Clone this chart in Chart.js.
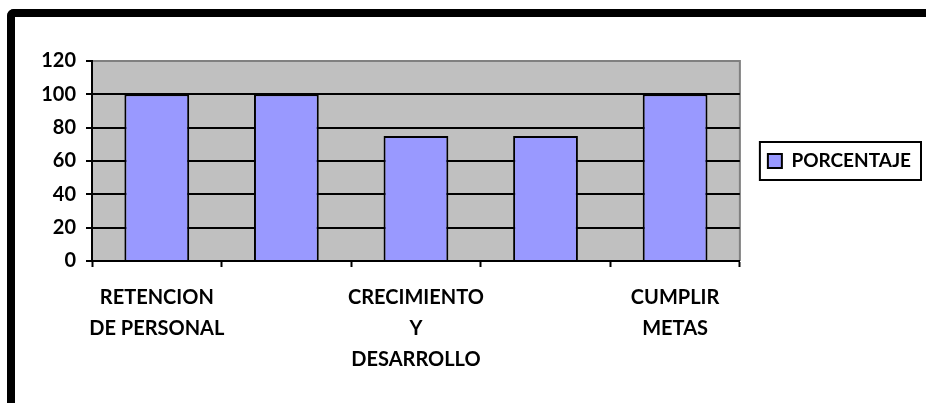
<!DOCTYPE html>
<html lang="es">
<head>
<meta charset="UTF-8">
<title>Porcentaje</title>
<script src="https://cdn.jsdelivr.net/npm/chart.js"></script>
<style>
    html, body { margin: 0; padding: 0; overflow: hidden; background: #fff; }
    #marco {
        position: absolute; left: 7px; top: 9px; width: 1000px; height: 500px;
        border-left: 8px solid #000; border-top: 8px solid #000;
        border-top-left-radius: 7px;
    }
    #caja { position: absolute; left: 0; top: 0; width: 926px; height: 403px; }
</style>
</head>
<body>
<div id="marco"></div>
<div id="caja"><canvas id="grafico"></canvas></div>
<script>
    // datos (las etiquetas 2 y 4 no se ven en el original)
    const categorias = [['RETENCION', 'DE PERSONAL'], '', ['CRECIMIENTO', 'Y', 'DESARROLLO'], '', ['CUMPLIR', 'METAS']];
    const porcentaje = [100, 100, 75, 75, 100];
    const ejeY = { min: 0, max: 120, paso: 20 };

    const fuente = { family: 'Lato', weight: 'bold', size: 20 };

    // fondo gris del area de trazado
    const fondoArea = {
        id: 'fondoArea',
        beforeDraw(chart) {
            const { ctx, chartArea: a } = chart;
            ctx.save();
            ctx.fillStyle = '#c0c0c0';
            ctx.fillRect(a.left, a.top, a.width, a.height);
            ctx.strokeStyle = '#808080';
            ctx.lineWidth = 2;
            ctx.beginPath();
            ctx.moveTo(a.left, a.top);
            ctx.lineTo(a.right, a.top);
            ctx.lineTo(a.right, a.bottom);
            ctx.stroke();
            ctx.restore();
        }
    };

    // recuadro de la leyenda
    const marcoLeyenda = {
        id: 'marcoLeyenda',
        afterDraw(chart) {
            const hb = chart.legend.legendHitBoxes[0];
            if (!hb) return;
            const ctx = chart.ctx;
            const cy = hb.top + hb.height / 2;
            ctx.save();
            ctx.strokeStyle = '#000';
            ctx.lineWidth = 2;
            ctx.strokeRect(hb.left - 8, cy - 19, hb.width + 18, 38);
            ctx.restore();
        }
    };

    new Chart(document.getElementById('grafico'), {
        type: 'bar',
        data: {
            labels: categorias,
            datasets: [{
                label: 'PORCENTAJE',
                data: porcentaje,
                backgroundColor: '#9999ff',
                borderColor: '#000',
                borderWidth: 2,
                barPercentage: 0.5,
                categoryPercentage: 1
            }]
        },
        options: {
            responsive: true,
            maintainAspectRatio: false,
            animation: false,
            layout: { padding: { top: 61, left: 20, bottom: 22, right: 5 } },
            scales: {
                x: {
                    afterFit: s => { s.height = 120; },
                    grid: {
                        offset: true,
                        drawOnChartArea: false,
                        drawTicks: true,
                        tickLength: 6,
                        tickWidth: 2,
                        tickColor: '#000'
                    },
                    border: { color: '#000', width: 2 },
                    ticks: {
                        autoSkip: false,
                        maxRotation: 0,
                        padding: 15,
                        color: '#000',
                        font: { ...fuente, lineHeight: 1.55 }
                    }
                },
                y: {
                    min: ejeY.min,
                    max: ejeY.max,
                    afterFit: s => { s.width = 72; },
                    grid: {
                        color: c => (c.tick && c.tick.value === ejeY.max ? '#808080' : '#000'),
                        lineWidth: 2,
                        tickLength: 6,
                        tickColor: '#000'
                    },
                    border: { color: '#000', width: 2 },
                    ticks: {
                        stepSize: ejeY.paso,
                        padding: 10,
                        color: '#000',
                        font: fuente
                    }
                }
            },
            plugins: {
                tooltip: { enabled: false },
                legend: {
                    position: 'right',
                    fullSize: false,
                    labels: {
                        boxWidth: 14,
                        boxHeight: 14,
                        padding: 28,
                        color: '#000',
                        font: { family: 'Lato', weight: 'bold', size: 19 }
                    }
                }
            }
        },
        plugins: [fondoArea, marcoLeyenda]
    });
</script>
</body>
</html>
